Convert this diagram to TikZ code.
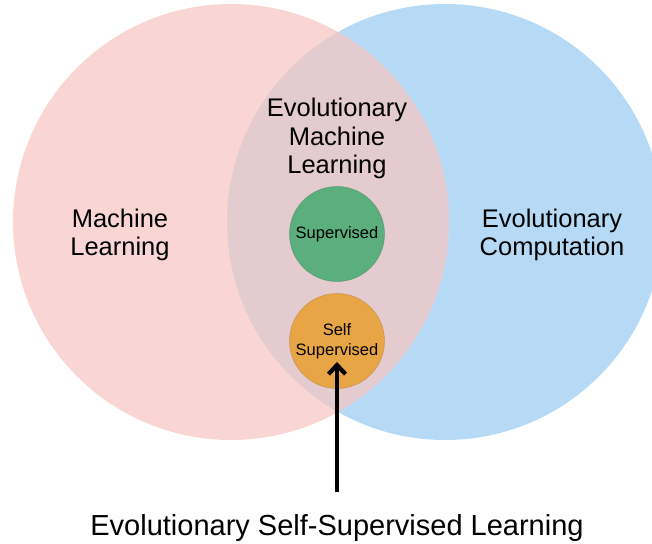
\documentclass[tikz,border=0pt]{standalone}
\usepackage{fontspec}
\setmainfont{Liberation Sans}
\usetikzlibrary{arrows.meta}
\definecolor{mlpink}{HTML}{F9D6D3}
\definecolor{ecblue}{HTML}{B6DAF6}
\definecolor{overlapc}{HTML}{E3CBD0}
\definecolor{supgreen}{HTML}{5AAF7C}
\definecolor{selforange}{HTML}{E8A545}
\begin{document}
\begin{tikzpicture}[x=1pt,y=-1pt,
  bigtext/.style={font=\fontsize{25.5}{28.5}\selectfont, align=center, inner sep=0pt},
  smalltext/.style={font=\fontsize{16.5}{20}\selectfont, align=center},
  inner/.style={circle, minimum size=95pt, inner sep=0pt, draw=#1!80!black, draw opacity=0.5, line width=0.8pt, fill=#1},
]
\useasboundingbox (0,0) rectangle (652,543);
\begin{scope}
  \clip (0,0) rectangle (652,543);
  \fill[ecblue] (445,222) circle[radius=218];
  \fill[mlpink] (231,222) circle[radius=218];
  \begin{scope}
    \clip (445,222) circle[radius=218];
    \fill[overlapc] (231,222) circle[radius=218];
  \end{scope}
\end{scope}
\node[bigtext] (ml) at (120,235) {Machine\\Learning};
\node[bigtext] (ec) at (552,235) {Evolutionary\\Computation};
\node[bigtext] (eml) at (337,138.5) {Evolutionary\\Machine\\Learning};
\node[inner=supgreen, smalltext] (sup) at (337,234) {Supervised};
\node[inner=selforange, smalltext] (self) at (337,341) {Self\\Supervised};
\node[font=\fontsize{29}{34}\selectfont, inner sep=0pt] (essl) at (337,528) {Evolutionary Self-Supervised Learning};
\coordinate (tail) at (337,492);
\coordinate (tip) at (337,362);
\draw[line width=4.2pt, -{Straight Barb[length=9pt,width=17pt]}] (tail) -- (tip);
\end{tikzpicture}
\end{document}
